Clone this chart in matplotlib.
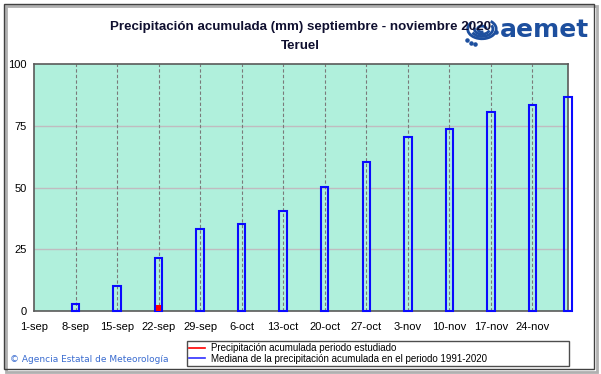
import numpy as np
import pandas as pd
import matplotlib
matplotlib.use("Agg")
import matplotlib.pyplot as plt
import matplotlib.patches as patches
from matplotlib.lines import Line2D

# data
start = "2020-09-01"
bar_dates = ["2020-09-08", "2020-09-15", "2020-09-22", "2020-09-29", "2020-10-06",
             "2020-10-13", "2020-10-20", "2020-10-27", "2020-11-03", "2020-11-10",
             "2020-11-17", "2020-11-24", "2020-11-30"]
median_1991_2020 = [2.7, 10.1, 21.6, 33.2, 35.2, 40.5, 50.2, 60.3, 70.3, 73.8, 80.6, 83.3, 86.8]
studied_dates = ["2020-09-08", "2020-09-15", "2020-09-22"]
studied_precip = [0.0, 0.0, 2.6]
tick_labels = ["1-sep", "8-sep", "15-sep", "22-sep", "29-sep", "6-oct", "13-oct",
               "20-oct", "27-oct", "3-nov", "10-nov", "17-nov", "24-nov"]
y_ticks = [0, 25, 50, 75, 100]

plt.rcParams['font.family'] = ['Liberation Sans', 'DejaVu Sans']

t0 = pd.Timestamp(start)
bar_x = np.array([(pd.Timestamp(d) - t0).days for d in bar_dates])
red_x = np.array([(pd.Timestamp(d) - t0).days for d in studied_dates])
end_day = (pd.Timestamp("2020-11-30") - t0).days

fig = plt.figure(figsize=(6.01, 3.74), dpi=100)
ax = fig.add_axes([34 / 601, 1 - 311 / 374, 534 / 601, 247 / 374])
ax.set_facecolor('#b0f0dc')

# grid
for v in y_ticks[1:-1]:
    ax.axhline(v, color='#c0bcc0', lw=1.0, zorder=1)
for d in range(7, end_day, 7):
    ax.axvline(d, color='#7a7a7a', lw=0.8, ls=(0, (3, 2)), zorder=1)

# median bars (unfilled), studied period bars (red)
ax.bar(bar_x, median_1991_2020, width=1.25, facecolor='none', edgecolor='#0a0aff',
       linewidth=1.5, zorder=3, clip_on=False)
ax.bar(red_x, studied_precip, width=0.95, color='#ff0000', linewidth=0, zorder=4)

ax.set_xlim(0, end_day)
ax.set_ylim(0, 100)
ax.set_yticks(y_ticks)
ax.set_yticklabels([str(v) for v in y_ticks], fontsize=8)
ax.set_xticks(np.arange(len(tick_labels)) * 7)
ax.set_xticklabels(tick_labels, fontsize=8)
ax.tick_params(axis='both', length=0)
ax.tick_params(axis='x', pad=8)
ax.tick_params(axis='y', pad=5)
for s in ax.spines.values():
    s.set_color('#5a5a5a')
    s.set_linewidth(1.2)

# titles
fig.text(0.5, 1 - 27 / 374, "Precipitación acumulada (mm) septiembre - noviembre 2020",
         ha='center', va='center', fontsize=9.6, fontweight='bold', color='#101030')
fig.text(0.5, 1 - 46 / 374, "Teruel", ha='center', va='center', fontsize=9.6,
         fontweight='bold', color='#101030')

# logo
logo_blue = '#1d4f9e'
ax_logo = fig.add_axes([462 / 601, 1 - 48 / 374, 38 / 601, 36 / 374])
ax_logo.set_xlim(0, 40)
ax_logo.set_ylim(0, 36)
ax_logo.axis('off')
for r, a1, a2 in [(15, 150, 40), (11.5, 200, 20), (8, 170, 350), (4.5, 0, 300)]:
    ax_logo.add_patch(patches.Arc((21, 19), 2 * r, 1.3 * r, theta1=a1, theta2=a2,
                                  color=logo_blue, lw=2.0))
ax_logo.scatter([5, 9, 14, 36], [8, 5, 4, 16], s=5, color=logo_blue)
ax_logo.patch.set_alpha(0)
fig.text(500 / 601, 1 - 37 / 374, "aemet", ha='left', va='baseline', fontsize=18,
         fontweight='bold', color=logo_blue, family='DejaVu Sans')

# legend
handles = [Line2D([], [], color='#ff0000', lw=1.2),
           Line2D([], [], color='#3030ff', lw=1.2)]
labels = ["Precipitación acumulada periodo estudiado",
          "Mediana de la precipitación acumulada en el periodo 1991-2020"]
leg = fig.legend(handles, labels, loc='lower left',
                 bbox_to_anchor=(187 / 601, 1 - 366 / 374, 382 / 601, 30 / 374),
                 mode='expand', fontsize=7, frameon=True, fancybox=False,
                 handlelength=1.6, handletextpad=0.6, borderpad=0.25,
                 labelspacing=0.05, borderaxespad=0)
leg.get_frame().set_edgecolor('#202020')
leg.get_frame().set_linewidth(1.0)

fig.text(10 / 601, 1 - 360 / 374, "\u00a9 Agencia Estatal de Meteorología",
         ha='left', va='center', fontsize=6.5, color='#3a6cd0',
         family=['DejaVu Sans'])

# outer frame with shadow
fig.patches.append(patches.Rectangle((6 / 601, 2 / 374), 591 / 601, 366 / 374,
                                     transform=fig.transFigure, fill=False,
                                     edgecolor='#b0b0b0', lw=2.0))
fig.patches.append(patches.Rectangle((4 / 601, 5 / 374), 590 / 601, 365 / 374,
                                     transform=fig.transFigure, fill=False,
                                     edgecolor='#404040', lw=1.0))

fig.savefig("out.png", dpi=100)
